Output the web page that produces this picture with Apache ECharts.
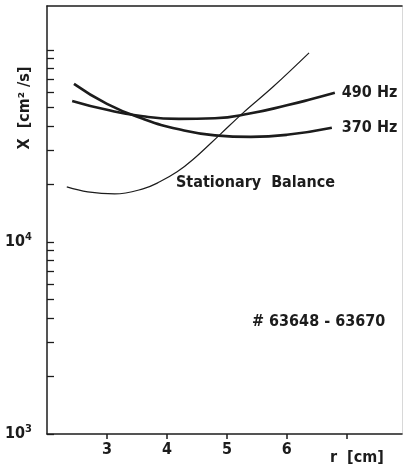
<!DOCTYPE html>
<html><head><meta charset="utf-8">
<script src="https://cdn.jsdelivr.net/npm/echarts@6/dist/echarts.min.js"></script>
<style>html,body{margin:0;padding:0;background:#fff}#c{width:405px;height:470px}</style>
</head><body><div id="c"></div>
<script>
const stationaryR = [2.33, 2.68, 3.13, 3.60, 3.88, 4.17, 4.43, 4.88, 5.27, 5.77, 6.37];
const stationaryX = [19340, 18220, 17780, 18880, 20540, 23150, 26740, 36080, 46970, 64180, 96400];
const hz490R = [2.42, 3.00, 3.60, 4.20, 4.80, 5.40, 6.00, 6.40, 6.80];
const hz490X = [54200, 48700, 45050, 43700, 43980, 46700, 51400, 55240, 59700];
const hz370R = [2.45, 3.00, 3.60, 4.20, 4.80, 5.40, 6.00, 6.75];
const hz370X = [66500, 52340, 43720, 38530, 35860, 35200, 36080, 39300];
const xTickVals = [3, 4, 5, 6, 7];
const xLabelVals = [3, 4, 5, 6];
const yTickVals = [1000,2000,3000,4000,5000,6000,7000,8000,9000,10000,20000,30000,40000,50000,60000,70000,80000,90000,100000];
const yLabelVals = [1000, 10000];

const ink = '#1c1c1c';
const font = "'DejaVu Sans Condensed','DejaVu Sans',sans-serif";
const pair = (r, x) => r.map((v, i) => [v, x[i]]);
const rect = {left: 47, top: 6, width: 355, height: 428, containLabel: false};

const chart = echarts.init(document.getElementById('c'), null, {renderer: 'canvas'});
chart.setOption({
  animation: false,
  backgroundColor: '#fff',
  grid: [Object.assign({}, rect), Object.assign({}, rect)],
  xAxis: [{
    gridIndex: 0, type: 'value', min: 2, max: 7.92, position: 'bottom',
    axisLine: {show: true, onZero: false, lineStyle: {color: ink, width: 1.5}},
    axisTick: {show: true, inside: false, length: 5, customValues: xTickVals, lineStyle: {color: ink, width: 1.5}},
    axisLabel: {show: true, customValues: xLabelVals, margin: 8, color: ink, fontSize: 16, fontWeight: 'bold', fontFamily: font},
    splitLine: {show: false}
  }, {
    gridIndex: 1, type: 'value', min: 2, max: 7.92, position: 'top',
    axisLine: {show: true, onZero: false, lineStyle: {color: ink, width: 1.5}},
    axisTick: {show: false}, axisLabel: {show: false}, splitLine: {show: false}
  }],
  yAxis: [{
    gridIndex: 0, type: 'log', logBase: 10, min: 1000, max: 169000, position: 'left',
    axisLine: {show: true, onZero: false, lineStyle: {color: ink, width: 1.5}},
    axisTick: {show: true, inside: true, length: 7, customValues: yTickVals, lineStyle: {color: ink, width: 1.3}},
    axisLabel: {show: true, customValues: yLabelVals, margin: 15, color: ink, fontFamily: font,
      formatter: v => '{b|10}{s|' + Math.round(Math.log10(v)) + '}',
      rich: {b: {fontSize: 16, fontWeight: 'bold', fontFamily: font, color: ink},
             s: {fontSize: 11, fontWeight: 'bold', fontFamily: font, color: ink, verticalAlign: 'bottom', padding: [0,0,10,0]}}},
    splitLine: {show: false}
  }, {
    gridIndex: 1, type: 'log', logBase: 10, min: 1000, max: 169000, position: 'right',
    axisLine: {show: true, onZero: false, lineStyle: {color: '#d8d8d8', width: 1}},
    axisTick: {show: false}, axisLabel: {show: false}, splitLine: {show: false}
  }],
  series: [{
    type: 'line', name: 'Stationary Balance', data: pair(stationaryR, stationaryX),
    smooth: 0.4, showSymbol: false, lineStyle: {color: ink, width: 1.2}
  }, {
    type: 'line', name: '490 Hz', data: pair(hz490R, hz490X),
    smooth: 0.5, showSymbol: false, lineStyle: {color: ink, width: 2.6},
    endLabel: {show: true, formatter: '490 Hz', distance: 7, color: ink, fontSize: 16, fontWeight: 'bold', fontFamily: font}
  }, {
    type: 'line', name: '370 Hz', data: pair(hz370R, hz370X),
    smooth: 0.5, showSymbol: false, lineStyle: {color: ink, width: 2.6},
    endLabel: {show: true, formatter: '370 Hz', distance: 10, color: ink, fontSize: 16, fontWeight: 'bold', fontFamily: font}
  }],
  graphic: [
    {type: 'text', x: 176, y: 183, style: {text: 'Stationary  Balance', fill: ink, font: 'bold 16px ' + font, verticalAlign: 'middle'}},
    {type: 'text', x: 252, y: 322, style: {text: '# 63648 - 63670', fill: ink, font: 'bold 16px ' + font, verticalAlign: 'middle'}},
    {type: 'text', x: 330, y: 458, style: {text: 'r  [cm]', fill: ink, font: 'bold 16px ' + font, verticalAlign: 'middle'}},
    {type: 'text', x: 25, y: 108, rotation: Math.PI / 2,
     style: {text: 'X  [cm² /s]', fill: ink, font: 'bold 16px ' + font, align: 'center', verticalAlign: 'middle'}}
  ]
});
</script></body></html>
